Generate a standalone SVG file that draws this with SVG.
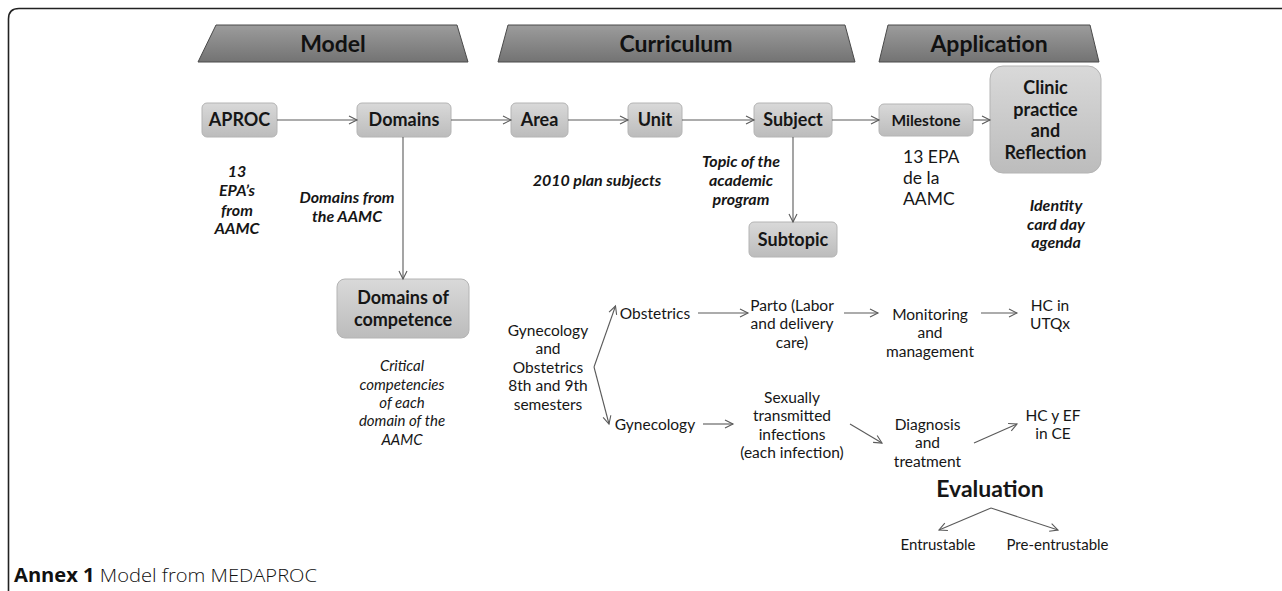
<svg xmlns="http://www.w3.org/2000/svg" width="1282" height="591" viewBox="0 0 1282 591">
<style>
text{font-family:Lato,"Open Sans","Liberation Sans",sans-serif;fill:#161616;text-anchor:middle}
.ban{font-size:23px;font-weight:bold;fill:#111}
.nb{font-size:18px;font-weight:bold}
.bi{font-size:16px;font-weight:bold;font-style:italic}
.it{font-size:15px;font-style:italic}
.rg{font-size:15.5px}
.rg17{font-size:17.5px;text-anchor:start}
.conn line,.conn path{stroke:#5a5a5a;stroke-width:1.1;fill:none}
.box{fill:url(#gNode);stroke:#b4b4b4;stroke-width:1}
.bnr{fill:url(#gBan);stroke:#4a4a4a;stroke-width:1}
</style>
<defs>
<linearGradient id="gNode" x1="0" y1="0" x2="0" y2="1">
<stop offset="0" stop-color="#d9d9d9"/><stop offset="1" stop-color="#bcbcbc"/>
</linearGradient>
<linearGradient id="gBan" x1="0" y1="0" x2="0" y2="1">
<stop offset="0" stop-color="#9c9c9c"/><stop offset="1" stop-color="#737373"/>
</linearGradient>
<marker id="ah" markerUnits="userSpaceOnUse" markerWidth="12" markerHeight="12" viewBox="0 0 12 12" refX="9" refY="6" orient="auto">
<path d="M1,2 L9,6 L1,10" fill="none" stroke="#5a5a5a" stroke-width="1.1"/>
</marker>
</defs>
<rect width="1282" height="591" fill="#ffffff"/>
<path d="M8.5,591 L8.5,19 Q8.5,8.5 19,8.5 L1282,8.5" fill="none" stroke="#222" stroke-width="1.6"/>

<g id="banner-model"><polygon class="bnr" points="216,25 457,25 468,62 198,62"/><text class="ban" x="333" y="52">Model</text></g>
<g id="banner-curriculum"><polygon class="bnr" points="508,25 845,25 855,62 498,62"/><text class="ban" x="676" y="52">Curriculum</text></g>
<g id="banner-application"><polygon class="bnr" points="888,25 1090,25 1099,62 879,62"/><text class="ban" x="989" y="52">Application</text></g>

<g id="aproc"><rect class="box" x="202" y="103" width="75" height="34" rx="5"/><text class="nb" x="239.5" y="126.3">APROC</text></g>
<g id="domains"><rect class="box" x="357" y="103" width="94" height="34" rx="5"/><text class="nb" x="404" y="126.3">Domains</text></g>
<g id="area"><rect class="box" x="511" y="103" width="57" height="34" rx="5"/><text class="nb" x="539.5" y="126.3">Area</text></g>
<g id="unit"><rect class="box" x="628" y="103" width="54" height="34" rx="5"/><text class="nb" x="655" y="126.3">Unit</text></g>
<g id="subject"><rect class="box" x="754" y="103" width="78" height="34" rx="5"/><text class="nb" x="793" y="126.3">Subject</text></g>
<g id="milestone"><rect class="box" x="879" y="104" width="94" height="32" rx="5"/><text class="nb" x="926" y="125.5" style="font-size:15.5px">Milestone</text></g>
<g id="clinic"><rect class="box" x="990" y="66" width="111" height="107" rx="13"/>
<text class="nb" x="1045.5" y="93.6">Clinic</text><text class="nb" x="1045.5" y="115.6">practice</text><text class="nb" x="1045.5" y="137.3">and</text><text class="nb" x="1045.5" y="159">Reflection</text></g>
<g id="subtopic"><rect class="box" x="749" y="222" width="88" height="35" rx="5"/><text class="nb" x="793" y="246.3">Subtopic</text></g>
<g id="domains-competence"><rect class="box" x="337" y="279" width="132" height="59" rx="8"/><text class="nb" x="403" y="304.3">Domains of</text><text class="nb" x="403" y="326.3">competence</text></g>

<g id="notes">
<text class="bi" x="237" y="177.3">13</text><text class="bi" x="237" y="196.3">EPA’s</text><text class="bi" x="237" y="215.6">from</text><text class="bi" x="237" y="234.3">AAMC</text>
<text class="bi" x="347" y="203.3">Domains from</text><text class="bi" x="347" y="222.3">the AAMC</text>
<text class="bi" x="597" y="185.6">2010 plan subjects</text>
<text class="bi" x="741" y="166.6">Topic of the</text><text class="bi" x="741" y="185.6">academic</text><text class="bi" x="741" y="204.6">program</text>
<text class="rg17" x="903" y="163.4">13 EPA</text><text class="rg17" x="903" y="184.4">de la</text><text class="rg17" x="903" y="205.4">AAMC</text>
<text class="bi" x="1056" y="211.3">Identity</text><text class="bi" x="1056" y="229.6">card day</text><text class="bi" x="1056" y="247.9">agenda</text>
<text class="it" x="402" y="371.3">Critical</text><text class="it" x="402" y="389.6">competencies</text><text class="it" x="402" y="408">of each</text><text class="it" x="402" y="426.3">domain of the</text><text class="it" x="402" y="444.6">AAMC</text>
</g>

<g id="gyob"><text class="rg" x="548" y="335.5">Gynecology</text><text class="rg" x="548" y="354">and</text><text class="rg" x="548" y="372.5">Obstetrics</text><text class="rg" x="548" y="391">8th and 9th</text><text class="rg" x="548" y="409.5">semesters</text></g>
<g id="obstetrics"><text class="rg" x="655" y="318.5">Obstetrics</text></g>
<g id="parto"><text class="rg" x="792" y="310.5">Parto (Labor</text><text class="rg" x="792" y="329">and delivery</text><text class="rg" x="792" y="347.5">care)</text></g>
<g id="monitoring"><text class="rg" x="930" y="319.5">Monitoring</text><text class="rg" x="930" y="338">and</text><text class="rg" x="930" y="356.5">management</text></g>
<g id="hc-utqx"><text class="rg" x="1050" y="310.5">HC in</text><text class="rg" x="1050" y="329">UTQx</text></g>
<g id="gynecology"><text class="rg" x="655" y="429.5">Gynecology</text></g>
<g id="sti"><text class="rg" x="792" y="402.5">Sexually</text><text class="rg" x="792" y="421">transmitted</text><text class="rg" x="792" y="439.5">infections</text><text class="rg" x="792" y="458">(each infection)</text></g>
<g id="diagnosis"><text class="rg" x="927.5" y="429.5">Diagnosis</text><text class="rg" x="927.5" y="448">and</text><text class="rg" x="927.5" y="466.5">treatment</text></g>
<g id="hc-ce"><text class="rg" x="1053" y="420.5">HC y EF</text><text class="rg" x="1053" y="439">in CE</text></g>
<g id="evaluation"><text x="990" y="497" style="font-size:23px;font-weight:bold">Evaluation</text></g>
<g id="entrustable"><text class="rg" x="938" y="549.5" style="font-size:15px">Entrustable</text></g>
<g id="pre-entrustable"><text class="rg" x="1057.5" y="549.5" style="font-size:15px">Pre-entrustable</text></g>

<g class="conn" id="connectors">
<line x1="277" y1="120" x2="357" y2="120" marker-end="url(#ah)"/>
<line x1="451" y1="120" x2="511" y2="120" marker-end="url(#ah)"/>
<line x1="568" y1="120" x2="628" y2="120" marker-end="url(#ah)"/>
<line x1="682" y1="120" x2="754" y2="120" marker-end="url(#ah)"/>
<line x1="832" y1="120" x2="879" y2="120" marker-end="url(#ah)"/>
<line x1="973" y1="120" x2="990" y2="120" marker-end="url(#ah)"/>
<line x1="403" y1="137" x2="403" y2="279" marker-end="url(#ah)"/>
<line x1="793" y1="137" x2="793" y2="222" marker-end="url(#ah)"/>
<line x1="594" y1="367" x2="615.5" y2="306" marker-end="url(#ah)"/>
<line x1="594" y1="367" x2="609" y2="424" marker-end="url(#ah)"/>
<line x1="698" y1="313" x2="748" y2="313" marker-end="url(#ah)"/>
<line x1="844" y1="313" x2="878" y2="313" marker-end="url(#ah)"/>
<line x1="981" y1="313" x2="1017" y2="313" marker-end="url(#ah)"/>
<line x1="703" y1="424" x2="733" y2="424" marker-end="url(#ah)"/>
<line x1="850" y1="424" x2="882" y2="443" marker-end="url(#ah)"/>
<line x1="974" y1="443" x2="1017" y2="424" marker-end="url(#ah)"/>
<line x1="991" y1="508" x2="939" y2="530" marker-end="url(#ah)"/>
<line x1="991" y1="508" x2="1058" y2="530" marker-end="url(#ah)"/>
</g>

<g id="caption"><text x="14" y="582" textLength="303" lengthAdjust="spacingAndGlyphs" style="text-anchor:start;font-size:19px;fill:#111;font-family:'Open Sans','Noto Sans',sans-serif"><tspan style="font-weight:bold">Annex 1</tspan><tspan style="font-weight:300"> Model from MEDAPROC</tspan></text></g>
</svg>
